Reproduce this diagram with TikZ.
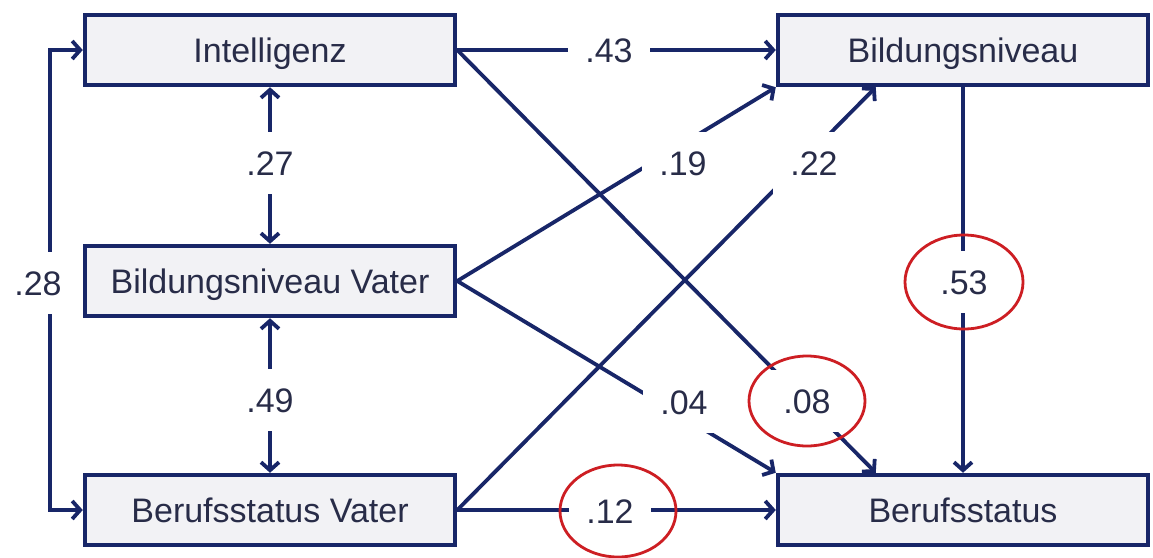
\documentclass[tikz,border=0pt]{standalone}
\usepackage{fontspec}
\setmainfont{Liberation Sans}
\usetikzlibrary{arrows.meta,backgrounds}
\definecolor{navy}{RGB}{24,38,104}
\definecolor{txt}{RGB}{40,44,72}
\definecolor{boxfill}{RGB}{242,242,245}
\definecolor{circ}{RGB}{205,30,35}
\begin{document}
\begin{tikzpicture}[x=1pt,y=-1pt,
  box/.style={draw=navy, line width=4.5pt, fill=boxfill, minimum width=370pt, minimum height=70pt,
    inner sep=0pt, text=txt, font=\fontsize{34}{40}\selectfont, text height=24pt, text depth=0pt},
  conn/.style={draw=navy, line width=3.8pt, -{Straight Barb[length=8pt,width=18pt]}},
  conn2/.style={draw=navy, line width=3.8pt, {Straight Barb[length=8pt,width=18pt]}-{Straight Barb[length=8pt,width=18pt]}},
  lab/.style={fill=white, text=txt, font=\fontsize{34}{40}\selectfont, inner xsep=17pt, inner ysep=19pt,
    text height=24pt, text depth=0pt},
  ring/.style={draw=circ, line width=2.8pt}]
\useasboundingbox (0,0) rectangle (1153,557);
% boxes
\node[box] (int) at (270,50) {Intelligenz};
\node[box] (bv) at (270,281) {Bildungsniveau Vater};
\node[box] (bs) at (270,510) {Berufsstatus Vater};
\node[box] (bn) at (963,50) {Bildungsniveau};
\node[box] (be) at (963,510) {Berufsstatus};
\coordinate (lft) at (50,0);
\coordinate (bnin) at ([xshift=100pt]bn.south west);
\coordinate (bein) at ([xshift=100pt]be.north west);
\begin{scope}[on background layer]
\fill[white] (0,0) rectangle (1153,557);
\draw[conn] (int.east) -- (bn.west);
\draw[conn] (int.east) -- (bein);
\draw[conn] (bv.east) -- (bn.south west);
\draw[conn] (bv.east) -- (be.north west);
\draw[conn] (bs.east) -- (bnin);
\draw[conn] (bs.east) -- (be.west);
\draw[conn] (bn.south) -- (be.north);
\draw[conn2] (int.south) -- (bv.north);
\draw[conn2] (bv.south) -- (bs.north);
\draw[conn2] (int.west) -- (int.west -| lft) -- (bs.west -| lft) -- (bs.west);
% labels
\node[lab] (l43) at (609,50) {.43};
\node[lab] (l27) at (270,163) {.27};
\node[lab] (l49) at (270,400) {.49};
\node[lab] (l28) at (38,283) {.28};
\node[lab] (l19) at (683,163) {.19};
\node[lab] (l22) at (814,163) {.22};
\node[lab] (l04) at (684,402) {.04};
\node[lab] (l08) at (807,401) {.08};
\node[lab] (l53) at (964,282) {.53};
\node[lab] (l12) at (610,511) {.12};
\end{scope}
% red rings
\draw[ring] (l08) ellipse [x radius=58, y radius=45];
\draw[ring] (l53) ellipse [x radius=59, y radius=47];
\draw[ring] ([xshift=8pt]l12.center) ellipse [x radius=58, y radius=46];
\end{tikzpicture}
\end{document}
